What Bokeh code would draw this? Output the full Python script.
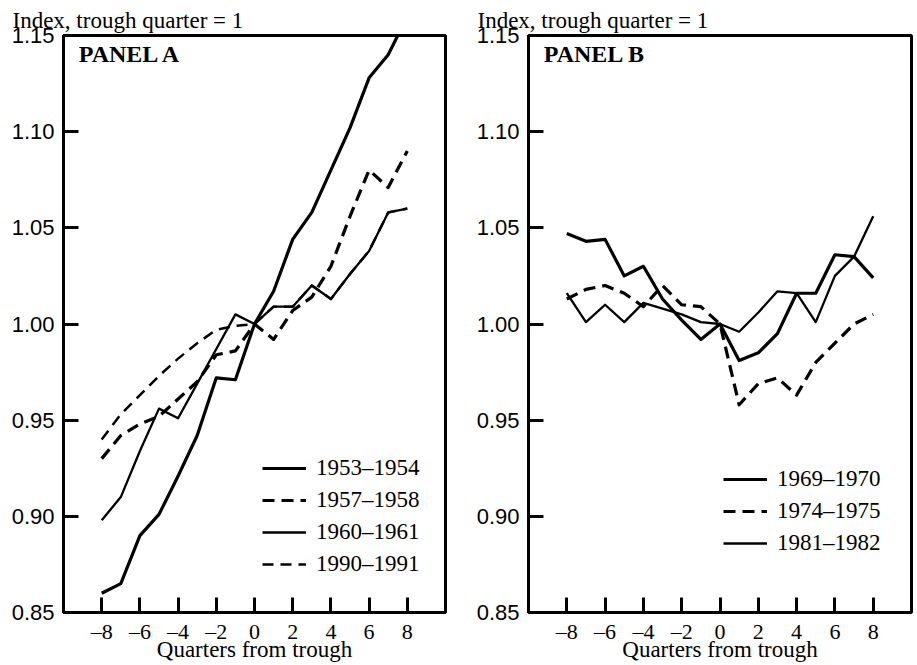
from bokeh.plotting import figure
from bokeh.layouts import row
from bokeh.models import Legend, LegendItem, FixedTicker, Label, Range1d
from bokeh.embed import file_html
from bokeh.resources import INLINE

# ---------------- data ----------------
quarters = list(range(-8, 9))
y_ticks = [0.85, 0.90, 0.95, 1.00, 1.05, 1.10, 1.15]
y_tick_labels = ["0.85", "0.90", "0.95", "1.00", "1.05", "1.10", "1.15"]
x_ticks = [-8, -6, -4, -2, 0, 2, 4, 6, 8]
x_tick_labels = ["\u20138", "\u20136", "\u20134", "\u20132", "0", "2", "4", "6", "8"]

y_title = "Index, trough quarter = 1"
x_title = "Quarters from trough"

# Panel A
s1953_1954 = [0.860, 0.865, 0.890, 0.901, 0.921, 0.942, 0.972, 0.971, 1.000,
              1.017, 1.044, 1.058, 1.080, 1.102, 1.128, 1.140, 1.160]
s1957_1958 = [0.930, 0.942, 0.948, 0.952, 0.961, 0.970, 0.984, 0.986, 1.000,
              0.992, 1.007, 1.014, 1.030, 1.056, 1.080, 1.071, 1.090]
s1960_1961 = [0.898, 0.910, 0.934, 0.956, 0.951, 0.969, 0.987, 1.005, 1.000,
              1.009, 1.009, 1.020, 1.013, 1.026, 1.038, 1.058, 1.060]
s1990_1991 = [0.940, 0.953, 0.963, 0.973, 0.982, 0.990, 0.997, 0.999, 1.000,
              1.009, 1.009, 1.020, 1.013, 1.026, 1.038, 1.058, 1.060]

# Panel B
s1969_1970 = [1.047, 1.043, 1.044, 1.025, 1.030, 1.013, 1.002, 0.992, 1.000,
              0.981, 0.985, 0.995, 1.016, 1.016, 1.036, 1.035, 1.024]
s1974_1975 = [1.013, 1.018, 1.020, 1.016, 1.009, 1.020, 1.010, 1.009, 1.000,
              0.958, 0.969, 0.972, 0.963, 0.980, 0.990, 1.000, 1.005]
s1981_1982 = [1.016, 1.001, 1.010, 1.001, 1.011, 1.008, 1.005, 1.001, 1.000,
              0.996, 1.006, 1.017, 1.016, 1.001, 1.025, 1.035, 1.056]

panel_a_series = [
    ("1990\u20131991", s1990_1991, "dashed_thin"),
    ("1953\u20131954", s1953_1954, "solid_thick"),
    ("1957\u20131958", s1957_1958, "dashed_thick"),
    ("1960\u20131961", s1960_1961, "solid_thin"),
]
panel_a_legend_order = ["1953\u20131954", "1957\u20131958", "1960\u20131961", "1990\u20131991"]

panel_b_series = [
    ("1969\u20131970", s1969_1970, "solid_thick"),
    ("1974\u20131975", s1974_1975, "dashed_thick"),
    ("1981\u20131982", s1981_1982, "solid_thin"),
]
panel_b_legend_order = ["1969\u20131970", "1974\u20131975", "1981\u20131982"]

SERIF = "Liberation Serif"
SANS = "Liberation Sans"

STYLES = {
    "solid_thick": dict(line_width=3.2, line_dash="solid"),
    "solid_thin": dict(line_width=2.3, line_dash="solid"),
    "dashed_thick": dict(line_width=3.2, line_dash="12 7"),
    "dashed_thin": dict(line_width=2.5, line_dash="11 7"),
}


def make_panel(panel_text, series, legend_order, width, border_left, border_right, legend_loc):
    p = figure(width=width, height=664, output_backend="svg", toolbar_location=None,
               x_range=Range1d(-10, 10), y_range=Range1d(0.85, 1.15),
               min_border_left=border_left, min_border_right=border_right,
               min_border_top=35, min_border_bottom=52,
               background_fill_color="white", border_fill_color="white")
    p.title.text = y_title
    p.title.text_font = SERIF
    p.title.text_font_style = "normal"
    p.title.text_font_size = "23px"
    p.title.text_color = "black"
    p.title.align = "left"
    p.title.offset = -51
    p.title.standoff = 6
    p.grid.visible = False
    p.outline_line_color = "black"
    p.outline_line_width = 3
    p.outline_line_alpha = 1

    # y axis
    ya = p.yaxis[0]
    ya.ticker = FixedTicker(ticks=y_ticks)
    ya.major_label_overrides = {t: l for t, l in zip(y_ticks, y_tick_labels)}
    ya.major_label_text_font = SANS
    ya.major_label_text_font_size = "22px"
    ya.major_label_text_color = "black"
    ya.major_label_standoff = 9
    ya.major_tick_in = 15
    ya.major_tick_out = 0
    ya.major_tick_line_width = 3
    ya.major_tick_line_color = "black"
    ya.minor_tick_line_color = None
    ya.axis_line_width = 3
    ya.axis_line_color = "black"

    # x axis
    xa = p.xaxis[0]
    xa.ticker = FixedTicker(ticks=x_ticks)
    xa.major_label_overrides = {t: l for t, l in zip(x_ticks, x_tick_labels)}
    xa.major_label_text_font = SERIF
    xa.major_label_text_font_size = "22px"
    xa.major_label_text_color = "black"
    xa.major_label_standoff = 6
    xa.major_tick_in = 15
    xa.major_tick_out = 0
    xa.major_tick_line_width = 3
    xa.major_tick_line_color = "black"
    xa.minor_tick_line_color = None
    xa.axis_line_width = 3
    xa.axis_line_color = "black"
    xa.axis_label = x_title
    xa.axis_label_text_font = SERIF
    xa.axis_label_text_font_style = "normal"
    xa.axis_label_text_font_size = "23px"
    xa.axis_label_text_color = "black"
    xa.axis_label_standoff = -10

    renderers = {}
    for name, vals, style in series:
        r = p.line(quarters, vals, line_color="black", line_join="round", **STYLES[style])
        renderers[name] = r

    legend = Legend(items=[LegendItem(label=n, renderers=[renderers[n]]) for n in legend_order],
                    location=legend_loc, orientation="vertical",
                    glyph_width=44, glyph_height=20, label_standoff=10, spacing=6,
                    padding=0, margin=0, border_line_alpha=0, background_fill_alpha=0,
                    label_text_font=SERIF, label_text_font_size="23px", label_text_color="black")
    p.add_layout(legend)

    p.add_layout(Label(x=-9.2, y=1.147, text=panel_text, text_font=SERIF, text_font_style="bold",
                       text_font_size="24px", text_baseline="top", text_align="left",
                       text_color="black"))
    return p


pA = make_panel("PANEL A", panel_a_series, panel_a_legend_order, 465, 63, 20, (199, 35))
pB = make_panel("PANEL B", panel_b_series, panel_b_legend_order, 452, 63, 6, (195, 56))

layout = row(pA, pB)
open("out.html", "w").write(file_html(layout, INLINE))
